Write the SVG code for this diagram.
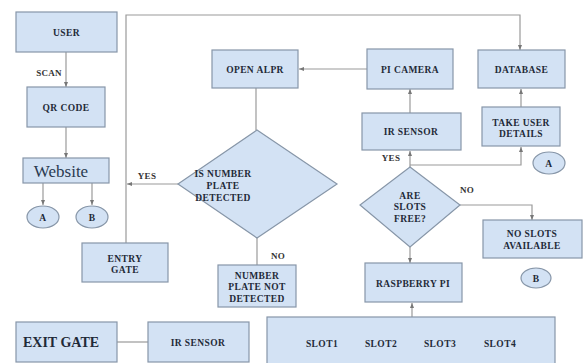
<svg xmlns="http://www.w3.org/2000/svg" width="583" height="363" viewBox="0 0 583 363">
<defs>
<marker id="ah" markerWidth="6" markerHeight="6" refX="5" refY="3" orient="auto" markerUnits="userSpaceOnUse">
<path d="M0,1 L5,3 L0,5 z" fill="#777"/>
</marker>
<style>
.n{fill:#d3e2f4;stroke:#8796a8;stroke-width:1.2}
.t{font-family:"Liberation Serif",serif;font-weight:bold;font-size:9.5px;letter-spacing:0.4px;fill:#1f2a38;text-anchor:middle}
.c{fill:none;stroke:#9a9a9a;stroke-width:1.2}
.l{font-family:"Liberation Serif",serif;font-weight:bold;font-size:9px;letter-spacing:0.3px;fill:#333;text-anchor:middle}
</style>
</defs>
<rect width="583" height="363" fill="#fff"/>
<g id="connectors">
<path class="c" d="M66,52 V87" marker-end="url(#ah)"/>
<path class="c" d="M66,127 V158" marker-end="url(#ah)"/>
<path class="c" d="M43,183 V205" marker-end="url(#ah)"/>
<path class="c" d="M92,183 V205" marker-end="url(#ah)"/>
<path class="c" d="M126,243 V15 H520 V50" marker-end="url(#ah)"/>
<path class="c" d="M178,184 H127" marker-end="url(#ah)"/>
<path class="c" d="M367,69 H299" marker-end="url(#ah)"/>
<path class="c" d="M256,88 V130"/>
<path class="c" d="M257,238 V265"/>
<path class="c" d="M410,113 V89" marker-end="url(#ah)"/>
<path class="c" d="M410,167 V151" marker-end="url(#ah)"/>
<path class="c" d="M410,165 H521 V147" marker-end="url(#ah)"/>
<path class="c" d="M521,107 V89" marker-end="url(#ah)"/>
<path class="c" d="M460,205 H532 V220" marker-end="url(#ah)"/>
<path class="c" d="M410,247 V263" marker-end="url(#ah)"/>
<path class="c" d="M412,317 V303" marker-end="url(#ah)"/>
<path class="c" d="M117,342 H148"/>
<text class="l" x="49" y="76">SCAN</text>
<text class="l" x="147" y="179">YES</text>
<text class="l" x="278" y="258.5">NO</text>
<text class="l" x="391" y="161">YES</text>
<text class="l" x="467" y="192.5">NO</text>
</g>
<g id="user"><rect class="n" x="16" y="12" width="101" height="40"/><text class="t" x="66.5" y="36">USER</text></g>
<g id="qrcode"><rect class="n" x="27" y="87" width="78" height="40"/><text class="t" x="66" y="111">QR CODE</text></g>
<g id="website"><rect class="n" x="23" y="158" width="86" height="25"/><text x="61" y="177" font-family="Liberation Serif,serif" font-size="17" fill="#2a3a50" text-anchor="middle">Website</text></g>
<g id="circleA1"><ellipse class="n" cx="43" cy="217" rx="16" ry="11"/><text class="t" x="43" y="220.5">A</text></g>
<g id="circleB1"><ellipse class="n" cx="92" cy="217" rx="16" ry="11"/><text class="t" x="92" y="220.5">B</text></g>
<g id="entrygate"><rect class="n" x="82" y="243" width="86" height="39"/><text class="t" x="125" y="261.5">ENTRY</text><text class="t" x="125" y="272.5">GATE</text></g>
<g id="openalpr"><rect class="n" x="212" y="50" width="86" height="38"/><text class="t" x="255" y="72.5">OPEN ALPR</text></g>
<g id="picamera"><rect class="n" x="367" y="49" width="86" height="40"/><text class="t" x="410" y="72.5">PI CAMERA</text></g>
<g id="database"><rect class="n" x="478" y="50" width="87" height="38"/><text class="t" x="521.5" y="72.5">DATABASE</text></g>
<g id="irsensor1"><rect class="n" x="362" y="113" width="99" height="37"/><text class="t" x="411" y="135">IR SENSOR</text></g>
<g id="takeuser"><rect class="n" x="482" y="107" width="78" height="39"/><text class="t" x="521" y="125.5">TAKE USER</text><text class="t" x="521" y="136.5">DETAILS</text></g>
<g id="circleA2"><ellipse class="n" cx="549" cy="163" rx="16" ry="11"/><text class="t" x="549" y="166.5">A</text></g>
<g id="platedecision"><polygon class="n" points="257,130 337,184 257,238 178,184"/><text class="t" x="223" y="176.5" text-anchor="start">IS NUMBER</text><text class="t" x="223" y="188.5" text-anchor="start">PLATE</text><text class="t" x="223" y="200.5" text-anchor="start">DETECTED</text></g>
<g id="notdetected"><rect class="n" x="218" y="265" width="78" height="42"/><text class="t" x="257" y="278.5">NUMBER</text><text class="t" x="257" y="290">PLATE NOT</text><text class="t" x="257" y="301.5">DETECTED</text></g>
<g id="slotsdecision"><polygon class="n" points="410,167 460,205 410,247 360,205"/><text class="t" x="410" y="198.5">ARE</text><text class="t" x="410" y="210">SLOTS</text><text class="t" x="410" y="221.5">FREE?</text></g>
<g id="noslots"><rect class="n" x="483" y="220" width="99" height="38"/><text class="t" x="532" y="236.5">NO SLOTS</text><text class="t" x="532" y="248.5">AVAILABLE</text></g>
<g id="circleB2"><ellipse class="n" cx="536" cy="278" rx="15" ry="10"/><text class="t" x="536" y="281.5">B</text></g>
<g id="raspberry"><rect class="n" x="365" y="263" width="97" height="39"/><text class="t" x="413" y="286.5">RASPBERRY PI</text></g>
<g id="slots"><rect class="n" x="267" y="317" width="288" height="50"/><text class="t" x="322" y="346.5">SLOT1</text><text class="t" x="381" y="346.5">SLOT2</text><text class="t" x="440" y="346.5">SLOT3</text><text class="t" x="500" y="346.5">SLOT4</text></g>
<g id="exitgate"><rect class="n" x="16" y="322" width="101" height="40"/><text x="61" y="347" font-family="Liberation Serif,serif" font-weight="bold" font-size="14" fill="#1f2a38" text-anchor="middle">EXIT GATE</text></g>
<g id="irsensor2"><rect class="n" x="148" y="322" width="101" height="40"/><text class="t" x="198" y="345.5">IR SENSOR</text></g>
</svg>
